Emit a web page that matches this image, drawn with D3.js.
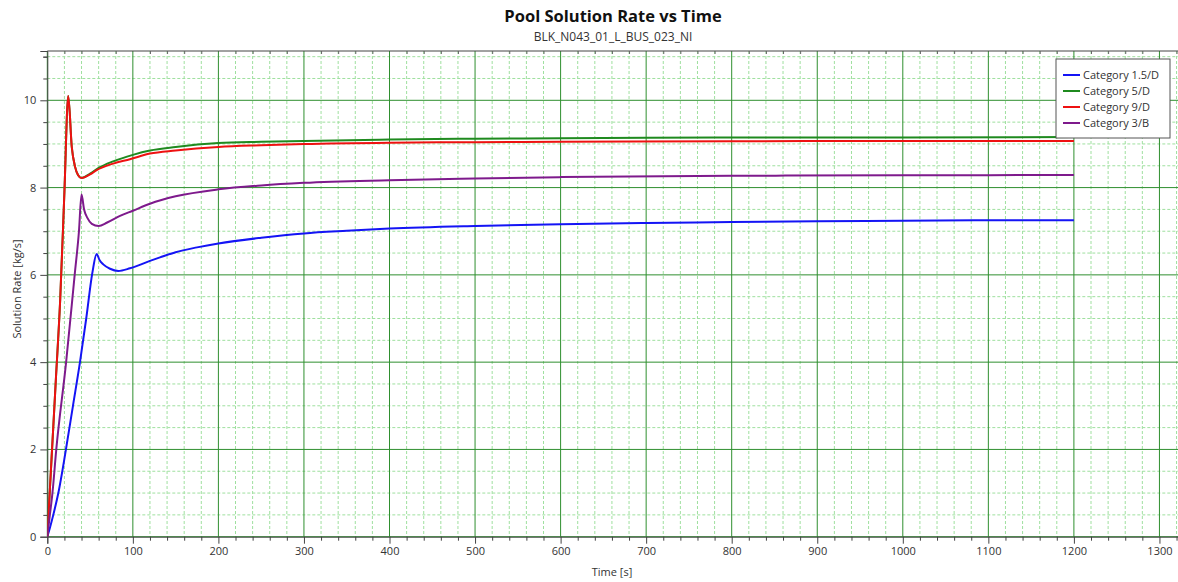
<!DOCTYPE html>
<html>
<head>
<meta charset="utf-8">
<script src="https://cdn.jsdelivr.net/npm/d3@7"></script>
<style>
  html, body { margin: 0; padding: 0; background: #fff; overflow: hidden; }
  svg { display: block; font-family: "Open Sans", "Noto Sans", sans-serif; }
</style>
</head>
<body>
<svg id="chart" width="1178" height="582"></svg>
<script>
const titleText = "Pool Solution Rate vs Time";
const subtitleText = "BLK_N043_01_L_BUS_023_NI";
const xAxisTitle = "Time [s]";
const yAxisTitle = "Solution Rate [kg/s]";

const seriesNames = ["Category 1.5/D", "Category 5/D", "Category 9/D", "Category 3/B"];
const seriesColors = ["#1414f5", "#1f8a1f", "#ee1111", "#7e1a8c"];

const xMajorTicks = [0,100,200,300,400,500,600,700,800,900,1000,1100,1200,1300];
const yMajorTicks = [0,2,4,6,8,10];

// [time s, rate kg/s]
const cat15D = [[0,0],[3,0.2],[7,0.5],[12.9,1.0],[21.8,2.0],[30,3.0],[38.2,4.0],[45.5,5.0],[52.6,6.04],[57.7,6.48],
  [61,6.34],[65.4,6.24],[73.3,6.14],[83,6.09],[96.6,6.15],[120,6.32],[131.7,6.4],[150,6.52],[175,6.63],[200,6.72],[250,6.85],
  [300,6.95],[350,7.01],[400,7.06],[500,7.12],[600,7.16],[700,7.19],[800,7.21],[900,7.23],[1000,7.24],[1100,7.25],[1200,7.25]];
const cat5D = [[0,0],[5,1.8],[10,3.6],[15,5.4],[20,7.9],[24.5,10.1],[28.6,8.93],[32.4,8.48],[35.9,8.29],[40,8.22],
  [50,8.32],[60,8.45],[77,8.6],[100,8.75],[120,8.85],[150,8.93],[200,9.02],[250,9.05],[300,9.07],[400,9.1],[500,9.12],
  [600,9.13],[700,9.14],[800,9.15],[1000,9.15],[1200,9.16]];
const cat9D = [[0,0],[5,1.8],[10,3.6],[15,5.4],[20,7.9],[24.5,10.1],[28.6,8.93],[32.4,8.48],[35.9,8.29],[40,8.22],
  [50,8.3],[57.7,8.4],[77,8.55],[96.6,8.65],[120,8.78],[150,8.85],[200,8.93],[250,8.97],[300,9.0],[400,9.03],[500,9.04],
  [600,9.05],[800,9.06],[1000,9.07],[1200,9.07]];
const cat3B = [[0,0],[3,0.5],[6,1.0],[10.5,2.0],[22,4.0],[32,6.0],[37,7.0],[40,7.84],
  [43,7.5],[47,7.3],[52,7.17],[60,7.12],[70,7.2],[85,7.35],[100,7.47],[120,7.63],[150,7.8],[200,7.96],[250,8.05],
  [300,8.11],[400,8.17],[500,8.21],[600,8.24],[800,8.27],[1000,8.28],[1200,8.29]];
const seriesData = [cat15D, cat5D, cat9D, cat3B];

const svg = d3.select("#chart");
const pLeft = 47.3, pTop = 51, pBottom = 536.7;
const x = d3.scaleLinear().domain([0, 1330]).range([pLeft, pLeft + 1330 * 0.8555]);
const y = d3.scaleLinear().domain([0, 11.13]).range([pBottom, pTop]);
const pRight = x(1330);

const xMinor = d3.range(0, 1331, 20).filter(v => v % 100 !== 0);
const yMinor = d3.range(0, 11.01, 0.5).filter(v => Math.abs(v % 2) > 1e-6);
const yMajorAll = d3.range(0, 11.01, 2);

svg.append("clipPath").attr("id", "plotclip").append("rect")
  .attr("x", pLeft).attr("y", pTop).attr("width", pRight - pLeft).attr("height", pBottom - pTop);

const grid = svg.append("g");
grid.selectAll(".xmin").data(xMinor).join("line")
  .attr("x1", d => x(d)).attr("x2", d => x(d)).attr("y1", pTop).attr("y2", pBottom)
  .attr("stroke", "#9fe09f").attr("stroke-width", 1).attr("stroke-dasharray", "3,2");
grid.selectAll(".ymin").data(yMinor).join("line")
  .attr("y1", d => y(d)).attr("y2", d => y(d)).attr("x1", pLeft).attr("x2", pRight)
  .attr("stroke", "#9fe09f").attr("stroke-width", 1).attr("stroke-dasharray", "3,2");
grid.selectAll(".xmaj").data(xMajorTicks).join("line")
  .attr("x1", d => x(d)).attr("x2", d => x(d)).attr("y1", pTop).attr("y2", pBottom)
  .attr("stroke", "#2f8f2f").attr("stroke-width", 1);
grid.selectAll(".ymaj").data(yMajorAll).join("line")
  .attr("y1", d => y(d)).attr("y2", d => y(d)).attr("x1", pLeft).attr("x2", pRight)
  .attr("stroke", "#2f8f2f").attr("stroke-width", 1);

const xAxis = d3.axisBottom(x).tickValues(xMajorTicks).tickSize(7).tickPadding(4).tickFormat(d3.format("d"));
const gx = svg.append("g").attr("transform", `translate(0,${pBottom})`).call(xAxis);
gx.select(".domain").attr("stroke", "#444");
gx.selectAll(".tick line").attr("stroke", "#444");
gx.selectAll("text").attr("font-size", 11).attr("fill", "#333").attr("font-family", "Open Sans, sans-serif");
const xMinorAxis = d3.axisBottom(x).tickValues(xMinor).tickSize(4).tickFormat("");
const gxm = svg.append("g").attr("transform", `translate(0,${pBottom})`).call(xMinorAxis);
gxm.select(".domain").remove();
gxm.selectAll(".tick line").attr("stroke", "#444");

const yAxis = d3.axisLeft(y).tickValues(yMajorTicks).tickSize(7).tickPadding(4).tickFormat(d3.format("d"));
const gy = svg.append("g").attr("transform", `translate(${pLeft},0)`).call(yAxis);
gy.select(".domain").attr("stroke", "#444");
gy.selectAll(".tick line").attr("stroke", "#444");
gy.selectAll("text").attr("font-size", 11).attr("fill", "#333").attr("font-family", "Open Sans, sans-serif");
const yMinorAxis = d3.axisLeft(y).tickValues(yMinor.concat([11])).tickSize(4).tickFormat("");
const gym = svg.append("g").attr("transform", `translate(${pLeft},0)`).call(yMinorAxis);
gym.select(".domain").remove();
gym.selectAll(".tick line").attr("stroke", "#444");

svg.append("line").attr("x1", pLeft).attr("x2", pRight).attr("y1", pTop).attr("y2", pTop).attr("stroke", "#444");
const topTicks = d3.axisBottom(x).tickValues(xMinor).tickSize(3).tickFormat("");
const gt = svg.append("g").attr("transform", `translate(0,${pTop})`).call(topTicks);
gt.select(".domain").remove();
gt.selectAll(".tick line").attr("stroke", "#666");

const line = d3.line().x(d => x(d[0])).y(d => y(d[1])).curve(d3.curveMonotoneX);
const lines = svg.append("g").attr("clip-path", "url(#plotclip)");
lines.selectAll("path").data(seriesData).join("path")
  .attr("d", d => line(d)).attr("fill", "none")
  .attr("stroke", (d, i) => seriesColors[i]).attr("stroke-width", 2)
  .attr("stroke-linejoin", "round");

svg.append("text").attr("x", 613).attr("y", 22).attr("text-anchor", "middle")
  .attr("font-size", 16.5).attr("font-weight", "bold").attr("fill", "#111").text(titleText);
svg.append("text").attr("x", 613).attr("y", 41).attr("text-anchor", "middle")
  .attr("font-size", 12).attr("fill", "#333").text(subtitleText);
svg.append("text").attr("x", 612).attr("y", 576).attr("text-anchor", "middle")
  .attr("font-size", 11).attr("fill", "#333").text(xAxisTitle);
svg.append("text").attr("transform", "translate(21,289) rotate(-90)").attr("text-anchor", "middle")
  .attr("font-size", 11).attr("fill", "#333").text(yAxisTitle);

const lg = svg.append("g").attr("transform", "translate(1056,59)");
lg.append("rect").attr("width", 114).attr("height", 79).attr("fill", "#fff").attr("stroke", "#555").attr("stroke-width", 1);
const items = lg.selectAll(".item").data(seriesNames).join("g")
  .attr("transform", (d, i) => `translate(0,${16 + i * 16})`);
items.append("line").attr("x1", 7).attr("x2", 24).attr("y1", 0).attr("y2", 0)
  .attr("stroke", (d, i) => seriesColors[i]).attr("stroke-width", 2);
items.append("text").attr("x", 27).attr("y", 4).attr("font-size", 11).attr("fill", "#333").text(d => d);
</script>
</body>
</html>
